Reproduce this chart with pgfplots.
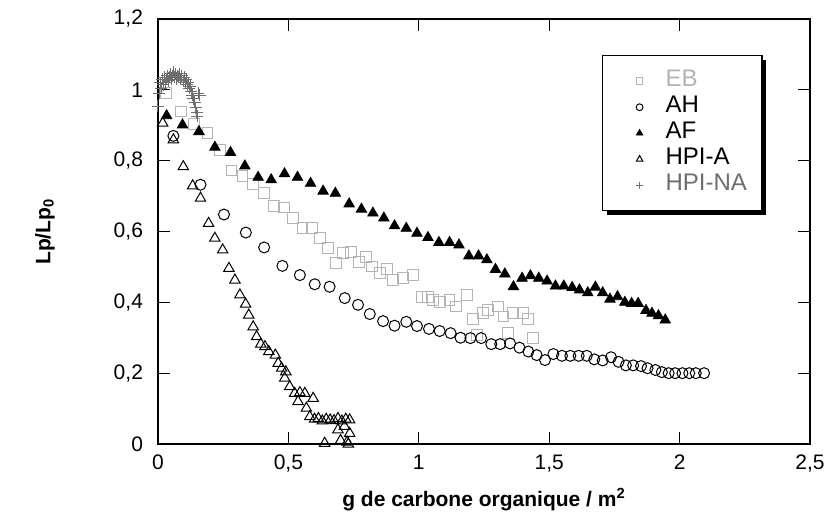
\documentclass[border=0pt]{standalone}
\usepackage{fontspec}
\setmainfont{Liberation Sans}
\usepackage{pgfplots}
\pgfplotsset{compat=1.18}
\usetikzlibrary{shadows}
\definecolor{ebgray}{HTML}{B4B4B4}
\definecolor{nagray}{HTML}{6E6E6E}
\makeatletter
\tikzset{no preactions/.code={\let\tikz@preactions\pgfutil@empty}}
\makeatother

\begin{document}
\begin{tikzpicture}
\begin{axis}[
  scale only axis,
  width=326pt, height=212.5pt,
  xmin=0, xmax=2.5, ymin=0, ymax=1.2,
  xtick={0,0.5,1,1.5,2,2.5},
  xticklabels={0,{0,5},1,{1,5},2,{2,5}},
  ytick={0,0.2,0.4,0.6,0.8,1,1.2},
  yticklabels={0,{0,2},{0,4},{0,6},{0,8},1,{1,2}},
  tick align=inside, major tick length=6pt,
  axis line style={line width=0.6pt},
  tick style={line width=0.6pt, black},
  ticklabel style={font=\fontsize{10.5}{12}\selectfont},
  xticklabel style={yshift=-2pt},
  yticklabel style={xshift=-4pt},
  every axis x label/.style={at={(axis description cs:0.5,0)}, yshift=-28pt, anchor=center},
  every axis y label/.style={at={(axis description cs:0,0.5)}, xshift=-56.5pt, rotate=90, anchor=center},
  xlabel={\fontsize{10.5}{12}\selectfont\bfseries g de carbone organique / m$^{\mathbf{2}}$},
  ylabel={\fontsize{10.5}{12}\selectfont\bfseries Lp/Lp$_{\mathbf{0}}$},
  legend cell align=left,
  legend image code/.code={%
    \path[no preactions, draw=none, fill=none] (0pt,-3pt) rectangle (24pt,3pt);
    \draw[#1, no preactions, only marks, every mark/.append style={scale=0.62}] plot coordinates {(15pt,0pt)};},
  legend style={at={(0.681,0.915)}, anchor=north west, draw=black, line width=0.6pt, fill=white,
    font=\fontsize{12}{13}\selectfont, inner xsep=3.5pt, inner ysep=6.25pt, row sep=0pt,
    nodes={inner xsep=4pt, inner ysep=0pt, text height=9pt, text depth=4pt},
    general shadow={fill=black, shadow xshift=2pt, shadow yshift=-2pt}},
]
\coordinate (ll) at (rel axis cs:0,0);
\coordinate (ur) at (rel axis cs:1,1);

% EB
\addplot[only marks, mark=square, mark size=2.7pt, draw=ebgray, mark options={draw=ebgray, line width=0.5pt}] coordinates {
(0.031,0.992) (0.088,0.939) (0.139,0.903) (0.190,0.879) (0.237,0.831)
(0.282,0.772) (0.324,0.757) (0.365,0.734) (0.406,0.708) (0.446,0.673)
(0.482,0.668) (0.518,0.638) (0.554,0.611) (0.589,0.611) (0.620,0.581)
(0.652,0.553) (0.681,0.510) (0.709,0.539) (0.741,0.543) (0.771,0.515)
(0.799,0.529) (0.822,0.501) (0.850,0.482) (0.877,0.495) (0.901,0.463)
(0.939,0.468) (0.977,0.477) (1.010,0.416) (1.035,0.416) (1.054,0.407)
(1.080,0.402) (1.118,0.407) (1.144,0.388) (1.184,0.421) (1.207,0.352)
(1.223,0.308) (1.245,0.369) (1.265,0.379) (1.303,0.388) (1.325,0.360)
(1.341,0.314) (1.360,0.371) (1.399,0.369) (1.420,0.352) (1.437,0.300)
};
\addlegendentry{\textcolor{ebgray}{EB}}

% AH
\addplot[only marks, mark=o, mark size=2.75pt, draw=black, mark options={draw=black, line width=0.5pt}] coordinates {
(0.059,0.870) (0.163,0.732) (0.253,0.648) (0.337,0.597) (0.407,0.555)
(0.477,0.503) (0.544,0.477) (0.601,0.451) (0.658,0.444) (0.716,0.412)
(0.767,0.393) (0.812,0.367) (0.863,0.347) (0.907,0.334) (0.952,0.345)
(0.993,0.333) (1.039,0.325) (1.080,0.319) (1.122,0.313) (1.160,0.300)
(1.198,0.299) (1.239,0.299) (1.278,0.282) (1.312,0.282) (1.350,0.284)
(1.386,0.272) (1.420,0.261) (1.452,0.251) (1.484,0.237) (1.516,0.254)
(1.549,0.249) (1.581,0.249) (1.613,0.249) (1.644,0.249) (1.673,0.239)
(1.705,0.236) (1.737,0.245) (1.766,0.232) (1.794,0.222) (1.822,0.222)
(1.852,0.220) (1.877,0.214) (1.907,0.209) (1.932,0.203) (1.958,0.200)
(1.983,0.200) (2.011,0.200) (2.037,0.200) (2.062,0.200) (2.094,0.200)
};
\addlegendentry{AH}

% AF
\addplot[only marks, mark=triangle*, mark size=3pt, draw=black, mark options={draw=black, fill=black, line width=0.4pt}] coordinates {
(0.033,0.927) (0.094,0.901) (0.157,0.882) (0.218,0.838) (0.278,0.823)
(0.333,0.785) (0.384,0.753) (0.434,0.746) (0.485,0.763) (0.535,0.753)
(0.585,0.736) (0.633,0.714) (0.680,0.708) (0.733,0.678) (0.780,0.663)
(0.824,0.652) (0.866,0.638) (0.907,0.616) (0.952,0.609) (0.993,0.595)
(1.035,0.583) (1.077,0.569) (1.118,0.569) (1.154,0.562) (1.192,0.531)
(1.229,0.531) (1.261,0.520) (1.294,0.493) (1.330,0.480) (1.363,0.444)
(1.396,0.468) (1.428,0.475) (1.460,0.468) (1.492,0.460) (1.524,0.446)
(1.556,0.446) (1.588,0.442) (1.616,0.435) (1.648,0.427) (1.677,0.443)
(1.705,0.427) (1.733,0.409) (1.762,0.416) (1.790,0.400) (1.816,0.397)
(1.841,0.397) (1.871,0.377) (1.894,0.369) (1.919,0.362) (1.945,0.350)
};
\addlegendentry{AF}

% HPI-A
\addplot[only marks, mark=triangle, mark size=3pt, draw=black, mark options={draw=black, line width=0.5pt}] coordinates {
(0.018,0.906) (0.059,0.859) (0.097,0.783) (0.133,0.729) (0.163,0.694)
(0.194,0.623) (0.218,0.581) (0.248,0.548) (0.272,0.496) (0.295,0.463)
(0.314,0.421) (0.336,0.395) (0.348,0.364) (0.365,0.331) (0.378,0.303)
(0.394,0.282) (0.410,0.275) (0.425,0.261) (0.450,0.251) (0.461,0.228)
(0.474,0.214) (0.490,0.204) (0.486,0.186) (0.505,0.162) (0.524,0.143)
(0.537,0.120) (0.544,0.145) (0.563,0.143) (0.569,0.101) (0.582,0.077)
(0.595,0.129) (0.600,0.070) (0.615,0.072) (0.630,0.065) (0.645,0.070)
(0.660,0.068) (0.675,0.066) (0.690,0.072) (0.705,0.065) (0.720,0.070)
(0.735,0.068) (0.639,0.002) (0.690,0.040) (0.700,0.010) (0.715,0.050)
(0.725,0.005) (0.735,0.030) (0.730,0.000)
};
\addlegendentry{HPI-A}

% HPI-NA
\addplot[only marks, mark=+, mark size=3pt, draw=nagray, mark options={draw=nagray, line width=0.5pt}] coordinates {
(0.000,0.953) (0.005,0.990) (0.008,1.020) (0.012,1.005) (0.016,1.030)
(0.020,1.015) (0.024,1.035) (0.028,1.020) (0.032,1.030) (0.036,1.040)
(0.040,1.025) (0.044,1.035) (0.048,1.045) (0.052,1.030) (0.056,1.040)
(0.060,1.050) (0.064,1.035) (0.068,1.045) (0.072,1.030) (0.076,1.040)
(0.080,1.035) (0.084,1.045) (0.088,1.030) (0.092,1.040) (0.096,1.025)
(0.100,1.035) (0.104,1.020) (0.108,1.030) (0.112,1.015) (0.116,1.020)
(0.120,1.005) (0.124,1.010) (0.128,0.995) (0.132,0.985) (0.136,0.975)
(0.140,0.965) (0.144,0.950) (0.148,0.935) (0.150,0.925) (0.155,0.990)
(0.160,0.985)
};
\addlegendentry{\textcolor{nagray}{HPI-NA}}
\end{axis}
\pgfresetboundingbox
\path ([shift={(-79pt,-38.5pt)}]ll) rectangle ([shift={(7.5pt,9.5pt)}]ur);
\end{tikzpicture}
\end{document}
